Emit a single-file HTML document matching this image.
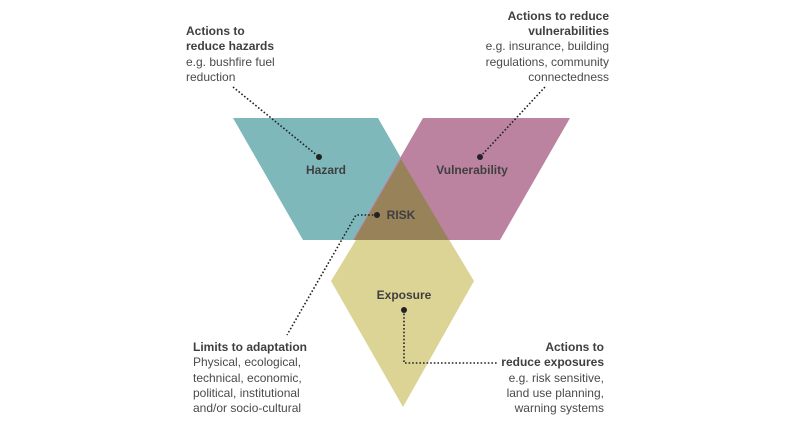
<!DOCTYPE html>
<html><head><meta charset="utf-8"><style>
html,body{margin:0;padding:0;background:#fff;}
svg{display:block}
text{font-family:"Liberation Sans",sans-serif;font-size:12px;fill:#4a4a4a}
.b{font-weight:bold;fill:#3f3f3f}
</style></head><body>
<svg width="800" height="425" viewBox="0 0 800 425">
<polygon points="403,163 474,281 403,407 331,281" fill="#dcd495"/>
<polygon points="233,118 378,118 448,240 303,240" fill="#7fb8bb"/>
<polygon points="423,118 570,118 500,240 353,240" fill="#bb83a0"/>
<polygon points="401,159 354,240 449,240" fill="#98825a"/>
<g stroke="#222" stroke-width="1.6" stroke-dasharray="1.6,2" fill="none">
<line x1="233" y1="87" x2="319" y2="157"/>
<line x1="545" y1="87" x2="480" y2="157"/>
<polyline points="377,215 356,215 287,335"/>
<polyline points="404,310 404,363 497,363"/>
</g>
<g fill="#222">
<circle cx="319" cy="157" r="3"/><circle cx="480" cy="157" r="3"/>
<circle cx="377" cy="215" r="3"/><circle cx="404" cy="310" r="3"/>
</g>
<text class="b" x="326" y="174" text-anchor="middle">Hazard</text>
<text class="b" x="472" y="174" text-anchor="middle">Vulnerability</text>
<text class="b" x="401" y="219" text-anchor="middle">RISK</text>
<text class="b" x="404" y="299" text-anchor="middle">Exposure</text>
<g>
<text class="b" x="186" y="35">Actions to</text>
<text class="b" x="186" y="50">reduce hazards</text>
<text x="186" y="66">e.g. bushfire fuel</text>
<text x="186" y="81">reduction</text>
</g>
<g text-anchor="end">
<text class="b" x="609" y="20">Actions to reduce</text>
<text class="b" x="609" y="35">vulnerabilities</text>
<text x="609" y="50">e.g. insurance, building</text>
<text x="609" y="66">regulations, community</text>
<text x="609" y="81">connectedness</text>
</g>
<g>
<text class="b" x="193" y="351">Limits to adaptation</text>
<text x="193" y="366">Physical, ecological,</text>
<text x="193" y="382">technical, economic,</text>
<text x="193" y="397">political, institutional</text>
<text x="193" y="412">and/or socio-cultural</text>
</g>
<g text-anchor="end">
<text class="b" x="604" y="351">Actions to</text>
<text class="b" x="604" y="366">reduce exposures</text>
<text x="604" y="382">e.g. risk sensitive,</text>
<text x="604" y="397">land use planning,</text>
<text x="604" y="412">warning systems</text>
</g>
</svg>
</body></html>
